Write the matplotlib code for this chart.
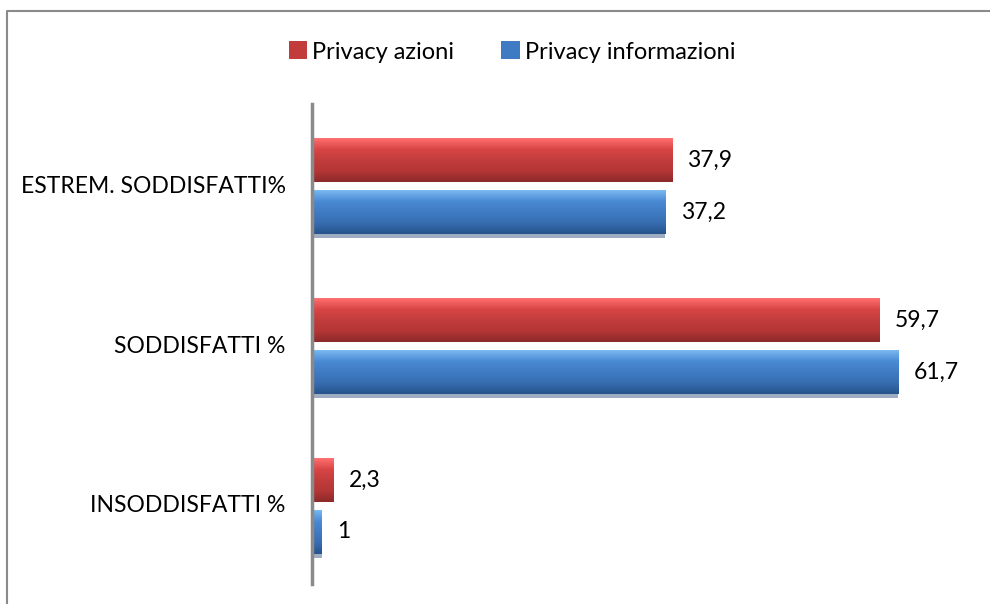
import numpy as np
import matplotlib.pyplot as plt
from matplotlib.colors import LinearSegmentedColormap
from matplotlib.patches import Rectangle
from matplotlib.lines import Line2D

plt.rcParams['font.family'] = ['Lato', 'DejaVu Sans']

categories = ["ESTREM. SODDISFATTI%", "SODDISFATTI %", "INSODDISFATTI %"]
azioni = [37.9, 59.7, 2.3]
informazioni = [37.2, 61.7, 1.0]
series_names = ["Privacy azioni", "Privacy informazioni"]

W, H = 990, 604
FS = 16.5
fig = plt.figure(figsize=(W / 100, H / 100), dpi=100)

# outer chart-area border: only left and top edges are visible in the crop
fig.add_artist(Line2D([7 / W, 7 / W, 1.0], [0.0, 1 - 11 / H, 1 - 11 / H],
                      transform=fig.transFigure, color="#8a8a8a", lw=1.5))

ax = fig.add_axes([312 / W, 20 / H, 650 / W, 480 / H])
xmax = 650 / 9.5

red_cmap = LinearSegmentedColormap.from_list(
    "red", ["#ff7070", "#d84545", "#c23c3c", "#b53636", "#8c2a2a"])
blue_cmap = LinearSegmentedColormap.from_list(
    "blue", ["#7ab8f0", "#4a8ad4", "#3f7bc2", "#376db0", "#27548c"])

grad = np.linspace(0, 1, 64).reshape(-1, 1)
bar_h = 0.27
y = np.arange(len(categories))


def draw_bar(yc, val, cmap, shadow=False):
    y0, y1 = yc - bar_h / 2, yc + bar_h / 2
    if shadow:
        ax.add_patch(Rectangle((0, y0 + 0.025), val, bar_h,
                               facecolor="#9fadc2", edgecolor="none", zorder=1))
    ax.imshow(grad, extent=[0, val, y1, y0], aspect="auto", cmap=cmap,
              interpolation="bilinear", zorder=2)


for yc, a, b in zip(y, azioni, informazioni):
    draw_bar(yc - 0.15, a, red_cmap)
    draw_bar(yc + 0.175, b, blue_cmap, shadow=True)
    ax.text(a + 1.6, yc - 0.15, f"{a:g}".replace(".", ","),
            va="center", ha="left", fontsize=FS)
    ax.text(b + 1.6, yc + 0.175, f"{b:g}".replace(".", ","),
            va="center", ha="left", fontsize=FS)

ax.set_xlim(0, xmax)
ax.set_ylim(2.5, -0.5)
ax.set_yticks(y)
ax.set_yticklabels(categories, fontsize=FS)
ax.tick_params(axis="y", length=0, pad=19)
ax.set_xticks([])
for s in ["top", "right", "bottom"]:
    ax.spines[s].set_visible(False)
ax.spines["left"].set_color("#8a8a8a")
ax.spines["left"].set_linewidth(2.5)

# legend
handles = [Rectangle((0, 0), 1, 1, facecolor="#c23c3c"),
           Rectangle((0, 0), 1, 1, facecolor="#3f7bc2")]
fig.legend(handles, series_names, loc="center", ncol=2,
           bbox_to_anchor=(512 / W, 1 - 52 / H), frameon=False,
           fontsize=FS + 0.5, handlelength=0.8, handleheight=0.8,
           handletextpad=0.2, columnspacing=2.0)

fig.savefig("out.png", dpi=100)
